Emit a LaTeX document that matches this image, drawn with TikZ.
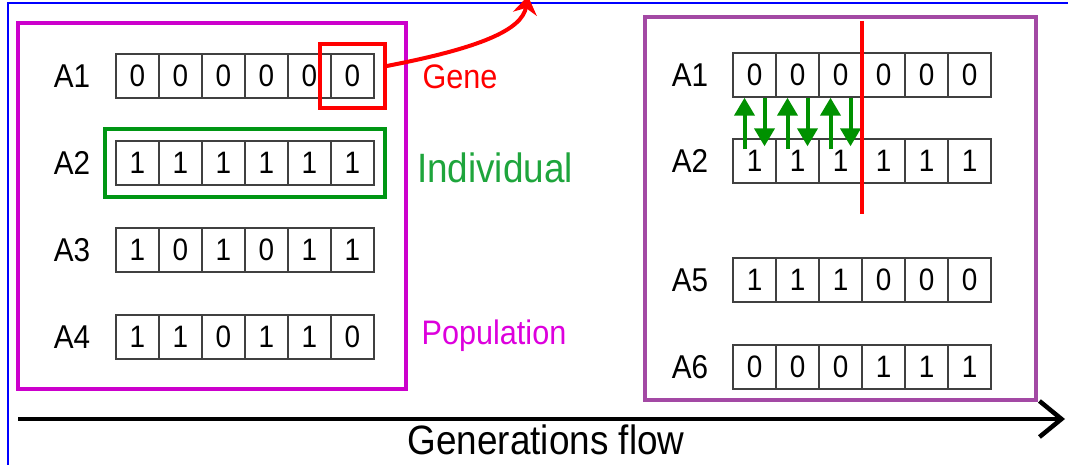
\documentclass[tikz,border=0pt]{standalone}
\usepackage{fontspec}
\setmainfont[FakeStretch=0.9]{Liberation Sans}
\usepackage{xcolor}
\usetikzlibrary{arrows.meta, positioning, fit, calc}

\definecolor{popmag}{RGB}{204,0,204}
\definecolor{poppurple}{RGB}{163,73,164}
\definecolor{poptext}{RGB}{221,0,221}
\definecolor{indgreen}{RGB}{0,150,20}
\definecolor{indtext}{RGB}{30,165,60}
\definecolor{xgreen}{RGB}{0,145,0}

\begin{document}
\begin{tikzpicture}[
  x=1pt, y=-1pt,
  cell/.style={rectangle, draw=black!75, line width=1.4pt,
               minimum width=43pt, minimum height=44pt, inner sep=0pt,
               font=\fontsize{31}{33}\selectfont},
  lbl/.style={font=\fontsize{33}{35}\selectfont},
  note/.style={font=\fontsize{34}{37}\selectfont, text=#1},
  popbox/.style={draw=#1, line width=4pt},
  selbox/.style={draw=#1, line width=4.2pt, fill=none},
  xover/.style={-{Triangle[length=18pt, width=20pt]}, line width=4pt, draw=xgreen},
  genearr/.style={-{Stealth[length=18pt, width=24pt]}, line width=4pt, red},
  flow/.style={-{Straight Barb[length=22pt, width=36pt]}, line width=4.5pt}
]
\useasboundingbox (0,0) rectangle (1068,465);
\clip (0,0) rectangle (1068,465);

% Frame
\draw[blue, line width=2pt] (8,470) -- (8,3) -- (1075,3);

% Population boxes
\draw[popbox=popmag]    (18,23) rectangle (406,389);
\draw[popbox=poppurple] (645,17) rectangle (1036,400);

% Left population: A1..A4
\node[lbl] (pA1) at (72,76)  {A1};
\node[lbl] (pA2) at (72,163) {A2};
\node[lbl] (pA3) at (72,250) {A3};
\node[lbl] (pA4) at (72,337) {A4};
\foreach \b [count=\i] in {0,0,0,0,0,0}
  \node[cell] (p1c\i) at ({94.5+43*\i},76) {\b};
\foreach \b [count=\i] in {1,1,1,1,1,1}
  \node[cell] (p2c\i) at ({94.5+43*\i},163) {\b};
\foreach \b [count=\i] in {1,0,1,0,1,1}
  \node[cell] (p3c\i) at ({94.5+43*\i},250) {\b};
\foreach \b [count=\i] in {1,1,0,1,1,0}
  \node[cell] (p4c\i) at ({94.5+43*\i},337) {\b};

% Gene / Individual markers
\node[selbox=red, fit=(p1c6), inner xsep=10pt, inner ysep=9pt] (gene) {};
\node[selbox=indgreen, fit=(p2c1)(p2c6), inner xsep=10pt, inner ysep=11pt] (indiv) {};

\node[note=red]      (genetxt) at (460,77)  {Gene};
\node[note=indtext, font=\fontsize{41}{44}\selectfont] (indtxt) at (495,168) {Individual};
\node[note=poptext]  (poptxt)  at (494,336) {Population};

% Gene arrow (leaves the frame)
\coordinate (genetip) at (528,-4);
\draw[genearr] ([yshift=10pt]gene.east) .. controls (480,48) and (522,30) .. (genetip);

% Right population: A1, A2 (crossover) and A5, A6
\node[lbl] (qA1) at (690,75)  {A1};
\node[lbl] (qA2) at (690,161) {A2};
\node[lbl] (qA5) at (690,280) {A5};
\node[lbl] (qA6) at (690,367) {A6};
\foreach \b [count=\i] in {0,0,0,0,0,0}
  \node[cell] (q1c\i) at ({711.5+43*\i},75) {\b};
\foreach \b [count=\i] in {1,1,1,1,1,1}
  \node[cell] (q2c\i) at ({711.5+43*\i},161) {\b};
\foreach \b [count=\i] in {1,1,1,0,0,0}
  \node[cell] (q5c\i) at ({711.5+43*\i},280) {\b};
\foreach \b [count=\i] in {0,0,0,1,1,1}
  \node[cell] (q6c\i) at ({711.5+43*\i},367) {\b};

% Crossover swaps
\foreach \i in {1,2,3} {
  \draw[xover] ([xshift=-10pt,yshift=-11pt]q2c\i.north) -- ([xshift=-10pt]q1c\i.south);
  \draw[xover] ([xshift=10pt]q1c\i.south) -- ([xshift=10pt,yshift=-8pt]q2c\i.north);
}

% Crossover point
\coordinate (cuttop) at (862,21);
\coordinate (cutbot) at (862,214);
\draw[red, line width=3.5pt] (cuttop) -- (cutbot);

% Generations flow
\coordinate (flowstart) at (18,419);
\coordinate (flowend)   at (1065,419);
\draw[flow] (flowstart) -- (flowend);
\node[font=\fontsize{41}{44}\selectfont] (flowtxt) at (546,440) {Generations flow};

\end{tikzpicture}
\end{document}
